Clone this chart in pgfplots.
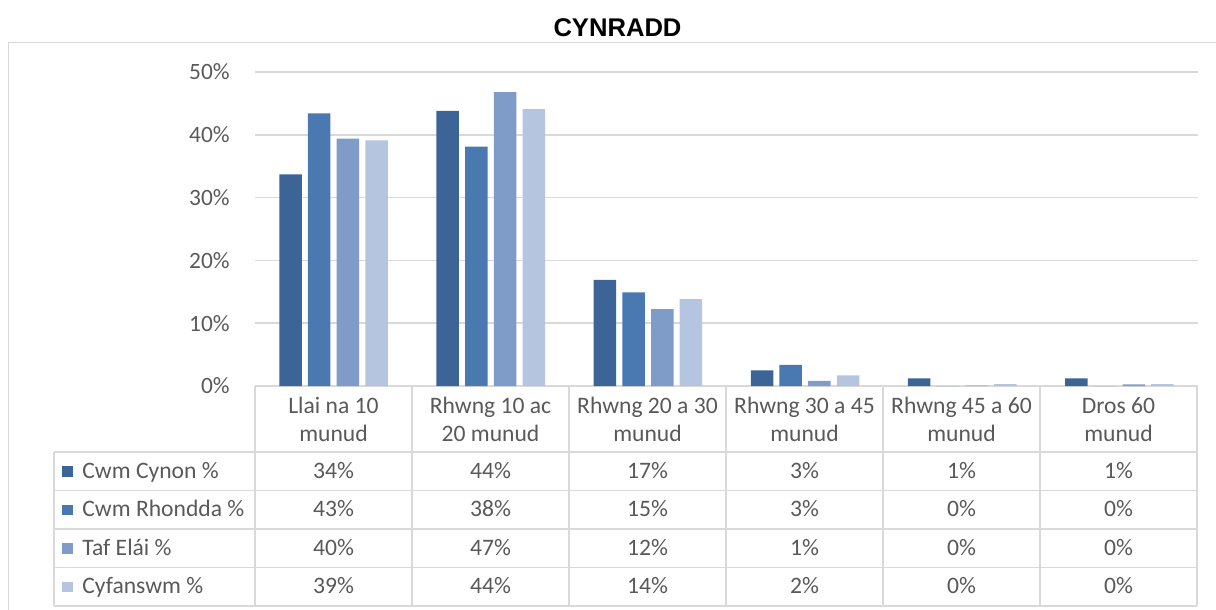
\documentclass[border=0pt]{standalone}
\usepackage{pgfplots}
\pgfplotsset{compat=1.18}
\usepackage{fontspec}
\setmainfont{Carlito}
\newfontfamily\titlefont{Liberation Sans}
\definecolor{cA}{HTML}{3C6496}
\definecolor{cB}{HTML}{4A78B0}
\definecolor{cC}{HTML}{7F9CC8}
\definecolor{cD}{HTML}{B5C4DF}
\definecolor{gridc}{HTML}{D9D9D9}
\definecolor{txt}{HTML}{595959}
\begin{document}
\begin{tikzpicture}[x=0.5pt,y=-0.5pt]
\path[use as bounding box] (0,0) rectangle (1216,610);
\draw[gridc,line width=0.8pt] (8.5,610) -- (8.5,42.5) -- (1216,42.5);
\node[font=\titlefont\bfseries\fontsize{12.8}{14}\selectfont, anchor=base, inner sep=0pt] at (617.5,37) {CYNRADD};
\begin{axis}[at={(127.5pt,-193pt)}, anchor=south west,
  width=471.5pt, height=157pt, scale only axis,
  ymin=0, ymax=50, xmin=-0.5, xmax=5.5,
  ybar=3.1pt, bar width=11.25pt,
  ytick={0,10,20,30,40,50},
  yticklabels={0\%,10\%,20\%,30\%,40\%,50\%},
  xtick=\empty,
  ymajorgrids, grid style={gridc, line width=0.8pt},
  axis line style={draw=none},
  major tick length=0pt,
  yticklabel style={font=\fontsize{11.7}{13}\selectfont, text=txt, inner sep=0pt, xshift=-12.5pt},
  clip=false]
\addplot[fill=cA, draw=none] coordinates {(0,33.7) (1,43.8) (2,16.9) (3,2.5) (4,1.2) (5,1.2)};
\addplot[fill=cB, draw=none] coordinates {(0,43.4) (1,38.1) (2,14.9) (3,3.35) (4,0) (5,0)};
\addplot[fill=cC, draw=none] coordinates {(0,39.4) (1,46.8) (2,12.25) (3,0.8) (4,0.05) (5,0.25)};
\addplot[fill=cD, draw=none] coordinates {(0,39.1) (1,44.1) (2,13.85) (3,1.7) (4,0.3) (5,0.3)};
\end{axis}
% data table
\begin{scope}[gridc, line width=0.7pt]
\draw (255,386) -- (255,606);
\foreach \k in {1,...,6} { \draw (255+157*\k,386) -- (255+157*\k,606); }
\draw (54,452) -- (54,606);
\foreach \yy in {452,490.5,529,567.5,606} { \draw (54,\yy) -- (1197,\yy); }
\end{scope}
\begin{scope}[every node/.style={font=\fontsize{11.8}{14.25}\selectfont, text=txt, inner sep=0pt, anchor=base}]
\foreach \k/\a/\b in {0/Llai na 10/munud, 1/Rhwng 10 ac/20 munud, 2/Rhwng 20 a 30/munud, 3/Rhwng 30 a 45/munud, 4/Rhwng 45 a 60/munud, 5/Dros 60/munud} {
  \node at (333.5+157*\k,413) {\a};
  \node at (333.5+157*\k,441.5) {\b};
}
\foreach \r/\lab/\col/\vals in {0/Cwm Cynon \%/cA/{34\%,44\%,17\%,3\%,1\%,1\%},
                             1/Cwm Rhondda \%/cB/{43\%,38\%,15\%,3\%,0\%,0\%},
                             2/Taf Elái \%/cC/{40\%,47\%,12\%,1\%,0\%,0\%},
                             3/Cyfanswm \%/cD/{39\%,44\%,14\%,2\%,0\%,0\%}} {
  \pgfmathsetmacro{\yc}{471+38.5*\r}
  \fill[\col] (62,\yc-5) rectangle (72.5,\yc+5.5);
  \node[anchor=base west] at (82,\yc+7.3) {\lab};
  \foreach \v [count=\c from 0] in \vals {
    \node at (333.5+157*\c,\yc+7.3) {\v};
  }
}
\end{scope}
\end{tikzpicture}
\end{document}
